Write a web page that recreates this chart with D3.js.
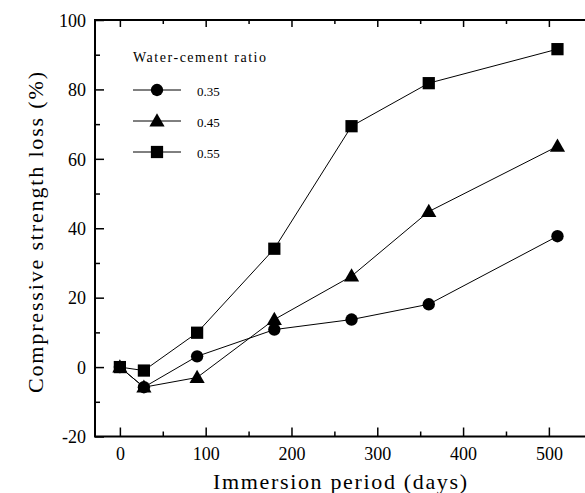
<!DOCTYPE html>
<html><head><meta charset="utf-8">
<script src="https://cdn.jsdelivr.net/npm/d3@7"></script>
<style>body{margin:0;background:#fff}svg{display:block}</style>
</head><body>
<svg id="c" width="585" height="493"></svg>
<script>
const days = [0, 28, 90, 180, 270, 360, 510];
const wc035 = [0, -5.8, 3.1, 10.8, 13.7, 18.1, 37.7];
const wc045 = [0, -5.8, -3, 13.7, 26.2, 44.8, 63.6];
const wc055 = [0, -1, 9.9, 34.1, 69.4, 81.8, 91.6];
const seriesNames = ["0.35", "0.45", "0.55"];
const seriesSymbols = ["circle", "triangle", "square"];
const xTicks = [0, 100, 200, 300, 400, 500];
const yTicks = [-20, 0, 20, 40, 60, 80, 100];
const legendTitle = "Water-cement ratio";
const xTitle = "Immersion period (days)";
const yTitle = "Compressive strength loss (%)";

const FONT = '"Liberation Serif", "DejaVu Serif", Times, serif';
const svg = d3.select("#c");
const L = 95, T = 20, B = 436.5;
const x = d3.scaleLinear().domain([-29, 551]).range([L, L + 0.858 * 580]);
const y = d3.scaleLinear().domain([-20, 100]).range([B, T]);
const R = x(551);
const fmt = d => String(d);

const g = svg.append("g");
const xMinor = d3.range(50, 551, 100);
const yMinor = d3.range(-10, 100, 20);

const xAxis = d3.axisBottom(x).tickValues(xTicks).tickSize(-9).tickFormat(fmt);
const yAxis = d3.axisLeft(y).tickValues(yTicks).tickSize(-9).tickFormat(fmt);
const gx = g.append("g").attr("transform", `translate(0,${B})`).call(xAxis);
const gy = g.append("g").attr("transform", `translate(${L},0)`).call(yAxis);
g.append("g").attr("transform", `translate(0,${B})`).call(d3.axisBottom(x).tickValues(xMinor).tickSize(-5).tickFormat(""));
g.append("g").attr("transform", `translate(${L},0)`).call(d3.axisLeft(y).tickValues(yMinor).tickSize(-5).tickFormat(""));
g.append("g").attr("transform", `translate(0,${T})`).call(d3.axisTop(x).tickValues(xTicks).tickSize(-7).tickFormat(""));
g.append("g").attr("transform", `translate(0,${T})`).call(d3.axisTop(x).tickValues(xMinor).tickSize(-4).tickFormat(""));
g.selectAll(".domain").remove();
g.selectAll("g").attr("font-family", FONT);
g.selectAll(".tick line").attr("stroke", "#000").attr("stroke-width", 1.5);
g.selectAll(".tick text").style("font-family", FONT).attr("font-size", 18).attr("fill", "#000");
gx.selectAll(".tick text").attr("dy", "0.71em").attr("y", 11);
gy.selectAll(".tick text").attr("x", -9).attr("dy", "0.35em");

g.append("rect").attr("x", L).attr("y", T).attr("width", R - L).attr("height", B - T)
  .attr("fill", "none").attr("stroke", "#000").attr("stroke-width", 2);

const symMap = {circle: d3.symbolCircle, triangle: d3.symbolTriangle, square: d3.symbolSquare};
const symSize = {circle: 120, triangle: 100, square: 150};
const allSeries = [wc035, wc045, wc055];
const line = d3.line().x((d, i) => x(days[i])).y(d => y(d));
allSeries.forEach((vals, si) => {
  g.append("path").attr("d", line(vals)).attr("fill", "none").attr("stroke", "#000").attr("stroke-width", 1);
  const sym = seriesSymbols[si];
  g.selectAll(null).data(vals).enter().append("path")
    .attr("transform", (d, i) => `translate(${x(days[i])},${y(d) + (sym === "triangle" ? 1 : 0)})`)
    .attr("d", d3.symbol().type(symMap[sym]).size(symSize[sym]))
    .attr("fill", "#000");
});

const lg = g.append("g");
lg.append("text").attr("x", 133).attr("y", 62).text(legendTitle)
  .attr("textLength", 133).attr("lengthAdjust", "spacing")
  .style("font-family", FONT).attr("font-size", 14).attr("fill", "#000");
const rowY = [90, 121, 152];
seriesNames.forEach((nm, i) => {
  lg.append("line").attr("x1", 133).attr("x2", 181).attr("y1", rowY[i]).attr("y2", rowY[i])
    .attr("stroke", "#000").attr("stroke-width", 1);
  const sym = seriesSymbols[i];
  lg.append("path").attr("transform", `translate(157,${rowY[i] + (sym === "triangle" ? 1 : 0)})`)
    .attr("d", d3.symbol().type(symMap[sym]).size(symSize[sym])).attr("fill", "#000");
  lg.append("text").attr("x", 197).attr("y", rowY[i] + 6).text(nm)
    .style("font-family", FONT).attr("font-size", 13).attr("fill", "#000");
});

svg.append("text").attr("x", 340).attr("y", 489).attr("text-anchor", "middle").text(xTitle)
  .attr("textLength", 254).attr("lengthAdjust", "spacing")
  .style("font-family", FONT).attr("font-size", 22).attr("fill", "#000");
svg.append("text").attr("transform", "translate(43,232.5) rotate(-90)").attr("text-anchor", "middle").text(yTitle)
  .attr("textLength", 321).attr("lengthAdjust", "spacing")
  .style("font-family", FONT).attr("font-size", 22).attr("fill", "#000");
</script>
</body></html>
